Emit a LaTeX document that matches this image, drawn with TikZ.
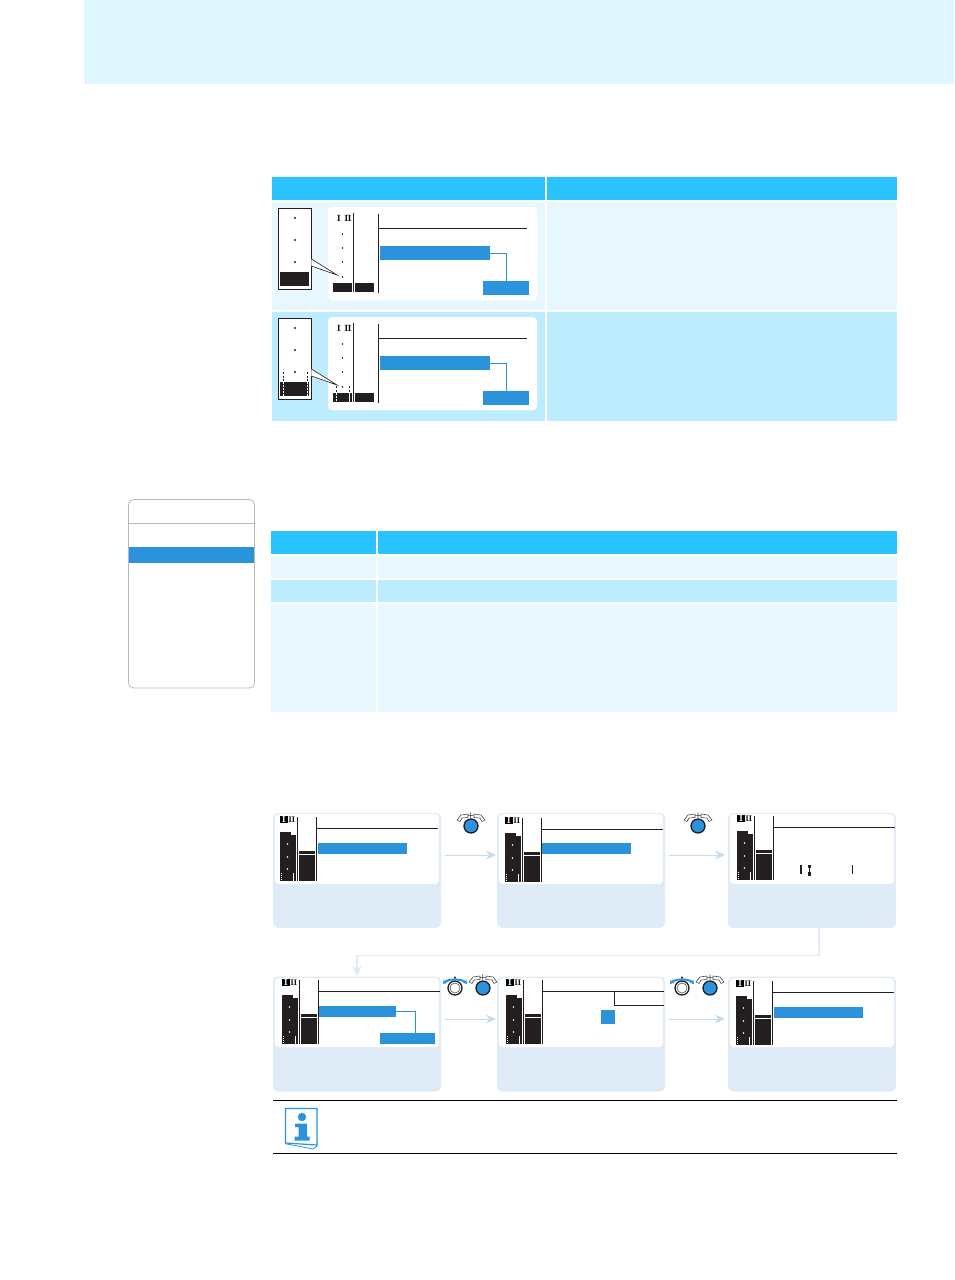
\documentclass[tikz,border=0pt]{standalone}
\usetikzlibrary{arrows.meta}
\definecolor{bandblue}{HTML}{DFF5FF}
\definecolor{headblue}{HTML}{29C3FF}
\definecolor{rowlight}{HTML}{E9F8FF}
\definecolor{rowdark}{HTML}{BEECFF}
\definecolor{lcdblue}{HTML}{2B93DC}
\definecolor{panelblue}{HTML}{E0EBF8}
\definecolor{flowblue}{HTML}{C4DCF0}
\definecolor{lcdblack}{HTML}{231F20}
\tikzset{
  bluebar/.style={rectangle, fill=lcdblue, inner sep=0pt, outer sep=0pt},
  panel/.style={rectangle, fill=panelblue, rounded corners=5pt, inner sep=0pt, outer sep=0pt, minimum width=168pt, minimum height=115pt},
  screen/.style={rectangle, fill=white, rounded corners=4pt, inner sep=0pt, outer sep=0pt},
  flowarrow/.style={flowblue, line width=1pt, -{Stealth[length=10pt,width=9pt]}},
  bluelink/.style={lcdblue, line width=1pt},
  roman/.style={inner sep=0pt, font=\fontsize{9}{9}\selectfont\bfseries},
  knob/.style={circle, draw=lcdblack, line width=1.3pt, inner sep=0pt, minimum size=14pt},
  knobband/.style={draw=black!70, fill=white, line width=0.6pt}
}
% display of one step, #1 #2 is its top left corner
\newcommand\lcdscreen[2]{
  \begin{scope}[shift={(#1,#2)}]
    \node[roman, fill=black, text=white, text height=5.5pt, text depth=0pt, minimum width=8pt, minimum height=6.5pt] (roman1) at (11,6.5) {I};
    \node[roman, font=\fontsize{8}{8}\selectfont\bfseries] (roman2) at (19,6.5) {\kern-0.3pt I\kern-0.6pt I};
    \draw[lcdblack, line width=0.9pt] (24,4) -- (24,68);
    \draw[lcdblack, line width=0.9pt] (43,4) -- (43,68);
    \draw[lcdblack, line width=0.9pt] (43,15) -- (165,15);
    \fill[lcdblack] (7,19) rectangle (18,68);
    \fill[lcdblack] (18,22) rectangle (23,68);
    \fill[lcdblack] (26,38) rectangle (42,40.5);
    \fill[lcdblack] (26,42) rectangle (42,68);
    \foreach \doty in {31,44,56}
      \fill[white] (14.5,\doty) circle (0.8);
    \draw[white, line width=0.8pt, dash pattern=on 1pt off 1pt] (8,60) -- (8,68);
    \draw[white, line width=0.8pt] (20,60) -- (20,68);
  \end{scope}
}
\newcommand\wheelknob[3]{
  \begin{scope}[shift={(#2,#3)}]
    \draw[knobband] (-14,-6) -- (-10,-11) -- (-3,-12) -- (-3,-8.5) -- (-9,-8) -- (-11,-4.5) -- cycle;
    \draw[knobband] (14,-6) -- (10,-11) -- (3,-12) -- (3,-8.5) -- (9,-8) -- (11,-4.5) -- cycle;
    \node[inner sep=0pt, font=\fontsize{7}{7}\selectfont\bfseries] (#1plus) at (0,-10.5) {+};
    \node[knob, fill=lcdblue] (#1) at (0,0) {};
  \end{scope}
}
\newcommand\jogknob[3]{
  \begin{scope}[shift={(#2,#3)}]
    \draw[lcdblue, line width=2pt, {Stealth[length=4pt,width=5pt]}-{Stealth[length=4pt,width=5pt]}] (-12,-4) .. controls (-7,-9.5) and (7,-9.5) .. (12,-4);
    \fill[lcdblack] (0,-10.5) circle (1.1);
    \node[knob, fill=white] (#1) at (0,0) {};
    \draw[black!55, line width=0.8pt] (0,0) circle (5);
  \end{scope}
}
\begin{document}
\begin{tikzpicture}[x=1pt, y=-1pt]
  \useasboundingbox (0,0) rectangle (954,1280);

  % Band at the top
  \fill[bandblue] (84,0) rectangle (954,84);

  % First table
  \fill[headblue] (272,177) rectangle (545,200);
  \fill[headblue] (547,177) rectangle (897,200);
  \fill[rowlight] (272,202) rectangle (545,310);
  \fill[rowlight] (547,202) rectangle (897,310);
  \fill[rowdark] (272,312) rectangle (545,421);
  \fill[rowdark] (547,312) rectangle (897,421);

  \foreach \rowy/\rowname in {0/A,110/B} {
    \begin{scope}[shift={(0,\rowy)}]
      \node[screen, minimum width=209pt, minimum height=93pt] (display\rowname) at (432.5,253.5) {};
      \node[rectangle, draw=lcdblack, fill=white, line width=0.9pt, inner sep=0pt, minimum width=33pt, minimum height=81pt] (zoom\rowname) at (294.5,248.5) {};
      \coordinate (tip\rowname) at (337,275);
      \fill[white] ([yshift=-10.5pt]zoom\rowname.east) -- (tip\rowname) -- ([yshift=-17.5pt]zoom\rowname.east) -- cycle;
      \draw[lcdblack, line width=0.6pt] ([yshift=-10.5pt]zoom\rowname.east) -- (tip\rowname) -- ([yshift=-17.5pt]zoom\rowname.east);
      \fill[lcdblack] (279.5,272) rectangle (309,286);
      \foreach \doty in {218,240,262}
        \fill[lcdblack] (295,\doty) circle (1.2);
      \node[roman] (romanI\rowname) at (339,218) {I};
      \node[roman] (romanII\rowname) at (348,218) {I\kern-0.6pt I};
      \draw[lcdblack, line width=0.9pt] (353,213) -- (353,292);
      \draw[lcdblack, line width=0.9pt] (378,214) -- (378,293);
      \draw[lcdblack, line width=0.9pt] (378,228) -- (527,228);
      \fill[lcdblack] (333,283) rectangle (352,292);
      \fill[lcdblack] (355,283) rectangle (374,292);
      \foreach \doty in {234,248,262,277}
        \fill[lcdblack] (342.5,\doty) circle (0.8);
      \node[bluebar, minimum width=110pt, minimum height=14pt] (setting\rowname) at (435,253) {};
      \node[bluebar, minimum width=46pt, minimum height=14pt] (value\rowname) at (506,288) {};
      \draw[bluelink] (setting\rowname.east) -| (value\rowname.north);
    \end{scope}
  }

  % Dashes of the second row
  \draw[lcdblack, line width=0.7pt, dash pattern=on 2pt off 1.5pt] (283,372) -- (283,382);
  \draw[lcdblack, line width=0.7pt, dash pattern=on 2pt off 1.5pt] (307,372) -- (307,382);
  \draw[white, line width=0.8pt, dash pattern=on 2pt off 1pt] (283,382) -- (283,396);
  \draw[white, line width=0.8pt, dash pattern=on 2pt off 1pt] (307,382) -- (307,396);
  \draw[lcdblack, line width=0.7pt, dash pattern=on 2pt off 1.5pt] (336,386) -- (336,393);
  \draw[lcdblack, line width=0.7pt, dash pattern=on 2pt off 1.5pt] (349,386) -- (349,393);
  \draw[white, line width=0.8pt, dash pattern=on 2pt off 1pt] (336,393) -- (336,402);
  \draw[white, line width=0.8pt] (349,393) -- (349,402);

  % Menu on the left
  \fill[lcdblue] (128.5,547) rectangle (254.5,563);
  \draw[black!28, line width=0.8pt, rounded corners=5pt] (128.5,499.5) rectangle (254.5,688);
  \draw[black!28, line width=0.8pt] (128.5,523) -- (254.5,523);

  % Second table
  \fill[headblue] (271,531) rectangle (376,554);
  \fill[headblue] (378,531) rectangle (897,554);
  \fill[rowlight] (271,556) rectangle (376,578);
  \fill[rowlight] (378,556) rectangle (897,578);
  \fill[rowdark] (271,580) rectangle (376,602);
  \fill[rowdark] (378,580) rectangle (897,602);
  \fill[rowlight] (271,604) rectangle (376,712);
  \fill[rowlight] (378,604) rectangle (897,712);

  % Steps, upper line
  \node[panel] (panelA) at (357,870.5) {};
  \node[panel] (panelB) at (581,870.5) {};
  \node[panel] (panelC) at (812,870.5) {};
  \node[screen, minimum width=164pt, minimum height=70pt] (screenA) at (357,849) {};
  \node[screen, minimum width=164pt, minimum height=70pt] (screenB) at (581,849) {};
  \node[screen, minimum width=164pt, minimum height=70pt] (screenC) at (812,849) {};
  \lcdscreen{273}{813}
  \lcdscreen{498}{814}
  \lcdscreen{730}{812}
  \node[bluebar, minimum width=89pt, minimum height=11pt] (barA) at (362.5,848.5) {};
  \node[bluebar, minimum width=89pt, minimum height=11pt] (barB) at (586.5,848.5) {};
  \draw[lcdblack, line width=1.6pt] (801,865) -- (801,874);
  \draw[lcdblack, line width=0.8pt] (809.5,866) -- (809.5,873);
  \fill[lcdblack] (808,864.5) rectangle (811,868);
  \fill[lcdblack] (808,871.5) rectangle (811,875.5);
  \draw[lcdblack, line width=0.8pt] (852,865) -- (852,874);
  \wheelknob{knobA}{471}{826}
  \wheelknob{knobB}{698}{826}
  \draw[flowarrow] ([xshift=4pt,yshift=15.5pt]panelA.east) -- ([xshift=-1pt,yshift=15.5pt]panelB.west);
  \draw[flowarrow] ([xshift=4pt,yshift=15.5pt]panelB.east) -- ([xshift=-3pt,yshift=15.5pt]panelC.west);

  % Steps, lower line
  \node[panel] (panelD) at (357,1034) {};
  \node[panel] (panelE) at (581,1034) {};
  \node[panel] (panelF) at (812,1034) {};
  \node[screen, minimum width=164pt, minimum height=69pt] (screenD) at (357,1012.5) {};
  \node[screen, minimum width=164pt, minimum height=69pt] (screenE) at (581,1012.5) {};
  \node[screen, minimum width=164pt, minimum height=69pt] (screenF) at (812,1012.5) {};
  \lcdscreen{275}{976}
  \lcdscreen{499}{976}
  \lcdscreen{729}{977}
  \node[bluebar, minimum width=77pt, minimum height=11pt] (barD) at (357.5,1011.5) {};
  \node[bluebar, minimum width=55pt, minimum height=11pt] (valueD) at (407.5,1038.5) {};
  \draw[bluelink] (barD.east) -| ([xshift=7.5pt]valueD.north);
  \node[bluebar, minimum width=14pt, minimum height=14pt] (valueE) at (608,1017) {};
  \draw[lcdblack, line width=0.9pt] (614,991) -- (614,1005) -- (664,1005);
  \node[bluebar, minimum width=89pt, minimum height=11pt] (barF) at (818.5,1012.5) {};
  \jogknob{knobC}{455}{988}
  \wheelknob{knobD}{483}{988}
  \jogknob{knobE}{682}{988}
  \wheelknob{knobF}{710}{988}
  \draw[flowarrow] ([xshift=4pt,yshift=15pt]panelD.east) -- ([xshift=-1pt,yshift=15pt]panelE.west);
  \draw[flowarrow] ([xshift=4pt,yshift=15pt]panelE.east) -- ([xshift=-3pt,yshift=15pt]panelF.west);

  % From the upper line to the lower line
  \coordinate (bendC) at (819,955.5);
  \draw[panelblue, line width=1.5pt, -{Stealth[length=11pt,width=10pt]}] ([xshift=7pt]panelC.south) -- (bendC) -- (bendC -| panelD.north) -- (panelD.north);

  % Note with the icon
  \draw[black, line width=0.9pt] (273,1100.5) -- (897,1100.5);
  \draw[black, line width=0.9pt] (273,1153) -- (897,1153);
  \draw[lcdblue, line width=0.8pt, fill=white] (287,1144) -- (313,1149) -- (317,1146) -- (317,1140) -- cycle;
  \draw[lcdblue, line width=1.2pt, fill=white] (285.5,1108.5) -- (317,1108.5) -- (317,1145) -- (285.5,1143) -- cycle;
  \fill[lcdblue] (302,1117) circle (4.2);
  \fill[lcdblue] (295,1123.5) -- (307,1123.5) -- (307,1136.5) -- (309.5,1136.5) -- (309.5,1140.5) -- (294.5,1140.5) -- (294.5,1136.5) -- (298.5,1136.5) -- (298.5,1127) -- (295,1127) -- cycle;
\end{tikzpicture}
\end{document}
